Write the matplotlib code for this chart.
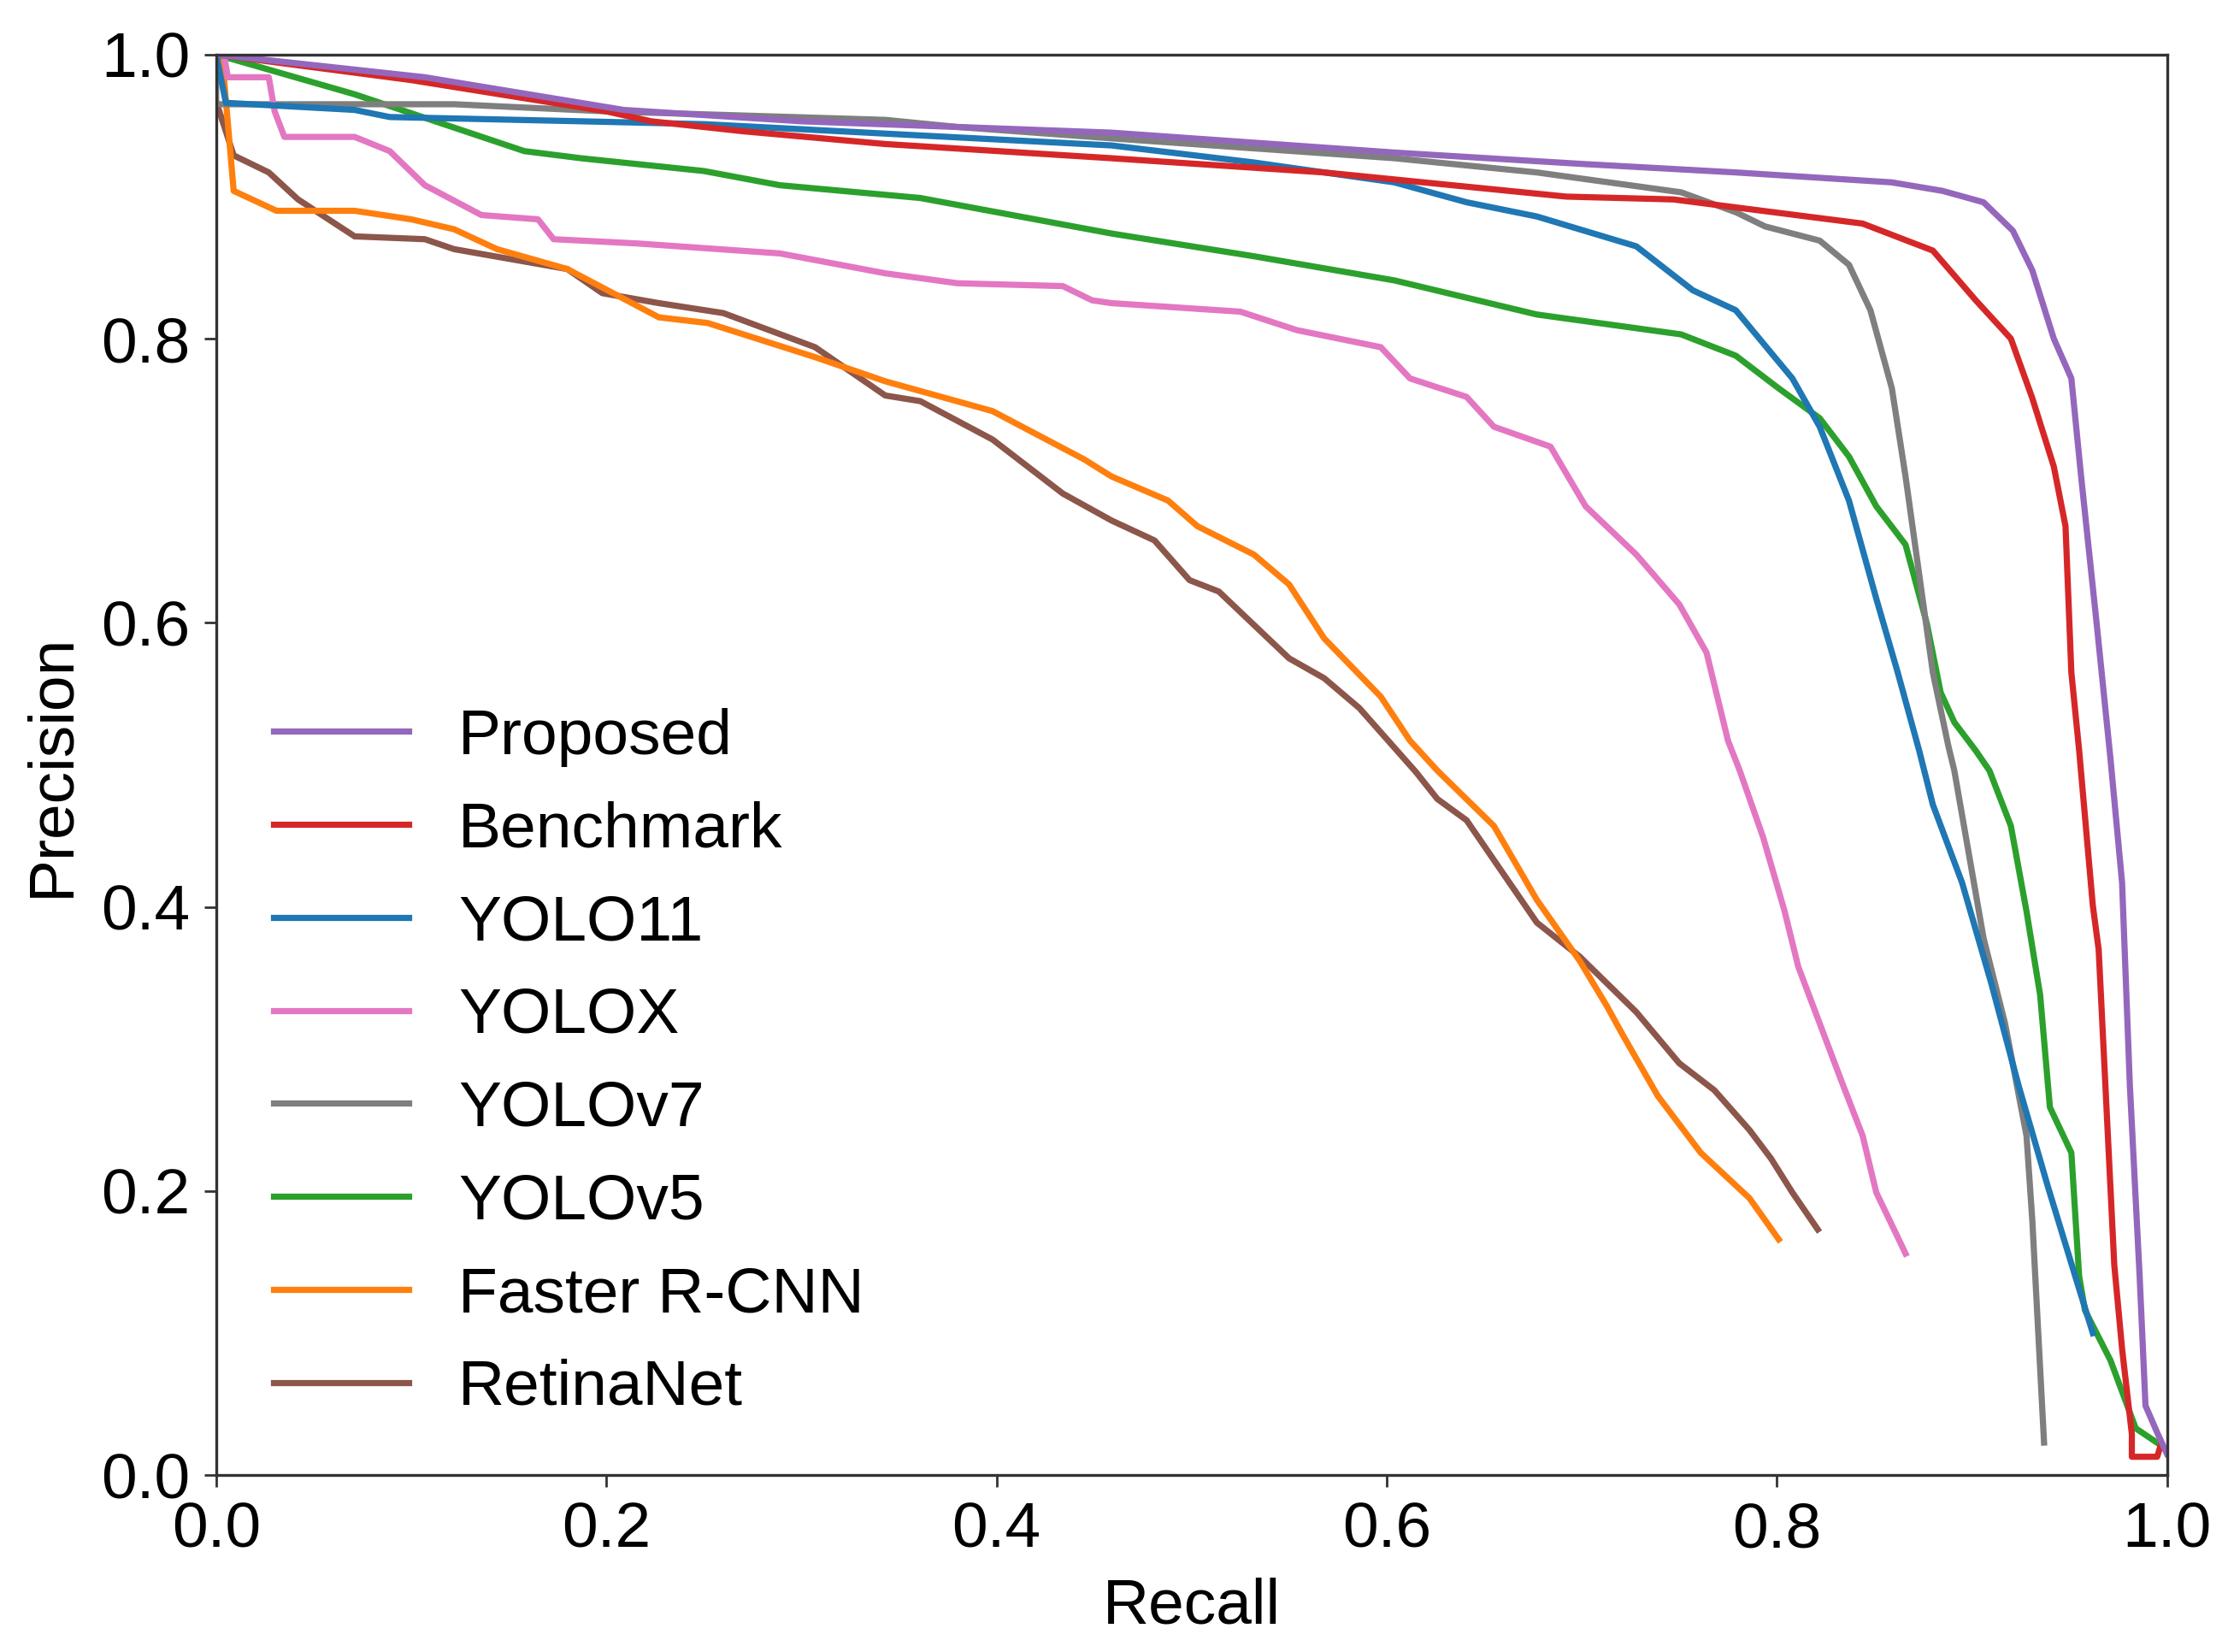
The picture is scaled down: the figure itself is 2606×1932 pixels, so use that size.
import matplotlib
matplotlib.use("Agg")
import matplotlib.pyplot as plt

plt.rcParams['font.family'] = ['Liberation Sans', 'DejaVu Sans']

# recall / precision
proposed_r = [0, 0.107, 0.209, 0.30, 0.40, 0.459, 0.604, 0.70, 0.779, 0.859, 0.885, 0.906, 0.921, 0.931,
              0.942, 0.951, 0.956, 0.964, 0.971, 0.977, 0.981, 0.986, 0.989, 0.995, 1.0]
proposed_p = [1.0, 0.984, 0.961, 0.953, 0.948, 0.945, 0.931, 0.923, 0.917, 0.910, 0.904, 0.896, 0.876, 0.848,
              0.80, 0.772, 0.703, 0.599, 0.505, 0.417, 0.274, 0.140, 0.049, 0.030, 0.015]

benchmark_r = [0, 0.10, 0.20, 0.223, 0.27, 0.343, 0.459, 0.568, 0.692, 0.747, 0.804, 0.844, 0.880, 0.902,
               0.920, 0.931, 0.942, 0.948, 0.951, 0.955, 0.962, 0.965, 0.969, 0.973, 0.977, 0.982, 0.982,
               0.995, 0.997]
benchmark_p = [1.0, 0.982, 0.960, 0.953, 0.946, 0.937, 0.927, 0.917, 0.900, 0.898, 0.888, 0.881, 0.862, 0.827,
               0.80, 0.758, 0.71, 0.668, 0.565, 0.51, 0.401, 0.37, 0.259, 0.148, 0.089, 0.029, 0.013,
               0.013, 0.022]

yolo11_r = [0, 0.005, 0.071, 0.089, 0.187, 0.25, 0.459, 0.532, 0.604, 0.641, 0.677, 0.728, 0.757, 0.779,
            0.808, 0.822, 0.837, 0.851, 0.862, 0.873, 0.880, 0.895, 0.910, 0.924, 0.939, 0.953, 0.962]
yolo11_p = [1.0, 0.966, 0.961, 0.956, 0.953, 0.951, 0.936, 0.924, 0.910, 0.896, 0.886, 0.865, 0.834, 0.820,
            0.772, 0.738, 0.686, 0.617, 0.565, 0.51, 0.472, 0.417, 0.346, 0.274, 0.203, 0.140, 0.10]

yolox_r = [0, 0.004, 0.006, 0.027, 0.030, 0.035, 0.071, 0.089, 0.107, 0.136, 0.165, 0.173, 0.216, 0.289,
           0.343, 0.38, 0.434, 0.449, 0.459, 0.525, 0.554, 0.597, 0.612, 0.641, 0.655, 0.684, 0.702, 0.728,
           0.750, 0.764, 0.775, 0.781, 0.793, 0.804, 0.811, 0.822, 0.833, 0.844, 0.851, 0.858, 0.866]
yolox_p = [1.0, 1.0, 0.984, 0.984, 0.96, 0.942, 0.942, 0.932, 0.908, 0.887, 0.884, 0.87, 0.867, 0.86,
           0.846, 0.839, 0.837, 0.827, 0.825, 0.819, 0.806, 0.794, 0.772, 0.759, 0.738, 0.724, 0.682, 0.648,
           0.613, 0.579, 0.517, 0.496, 0.449, 0.397, 0.358, 0.318, 0.278, 0.239, 0.199, 0.179, 0.156]

yolov7_r = [0, 0, 0.122, 0.2, 0.343, 0.38, 0.459, 0.604, 0.677, 0.751, 0.779, 0.794, 0.822, 0.837, 0.848,
            0.859, 0.866, 0.873, 0.880, 0.888, 0.891, 0.906, 0.917, 0.928, 0.931, 0.937]
yolov7_p = [1.0, 0.965, 0.965, 0.960, 0.954, 0.949, 0.941, 0.927, 0.917, 0.903, 0.889, 0.879, 0.869, 0.852,
            0.820, 0.765, 0.703, 0.634, 0.565, 0.513, 0.496, 0.378, 0.318, 0.239, 0.179, 0.023]

yolov5_r = [0, 0.071, 0.158, 0.187, 0.25, 0.289, 0.361, 0.459, 0.532, 0.604, 0.677, 0.751, 0.779, 0.801,
            0.822, 0.837, 0.851, 0.866, 0.877, 0.884, 0.891, 0.902, 0.909, 0.920, 0.928, 0.935, 0.940, 0.951,
            0.955, 0.958, 0.971, 0.984, 0.997]
yolov5_p = [1.0, 0.972, 0.932, 0.927, 0.918, 0.908, 0.899, 0.874, 0.858, 0.841, 0.817, 0.803, 0.788, 0.765,
            0.744, 0.717, 0.682, 0.655, 0.599, 0.551, 0.530, 0.51, 0.496, 0.457, 0.397, 0.338, 0.259, 0.227,
            0.140, 0.116, 0.081, 0.033, 0.021]

frcnn_r = [0.003, 0.009, 0.031, 0.071, 0.10, 0.122, 0.144, 0.18, 0.227, 0.252, 0.307, 0.343, 0.398, 0.445,
           0.459, 0.488, 0.503, 0.532, 0.550, 0.568, 0.597, 0.612, 0.626, 0.655, 0.677, 0.699, 0.713, 0.721,
           0.739, 0.761, 0.786, 0.801]
frcnn_p = [1.0, 0.904, 0.89, 0.89, 0.884, 0.877, 0.863, 0.849, 0.815, 0.811, 0.787, 0.77, 0.749, 0.715,
           0.703, 0.686, 0.668, 0.648, 0.627, 0.589, 0.548, 0.517, 0.496, 0.457, 0.405, 0.362, 0.330, 0.310,
           0.267, 0.227, 0.195, 0.166]

retina_r = [0, 0.009, 0.027, 0.042, 0.071, 0.107, 0.122, 0.18, 0.198, 0.227, 0.26, 0.307, 0.343, 0.361,
            0.398, 0.434, 0.459, 0.481, 0.499, 0.514, 0.550, 0.568, 0.586, 0.615, 0.626, 0.641, 0.655, 0.677,
            0.699, 0.728, 0.750, 0.768, 0.786, 0.797, 0.808, 0.821]
retina_p = [0.967, 0.929, 0.917, 0.898, 0.872, 0.870, 0.863, 0.849, 0.832, 0.825, 0.818, 0.794, 0.76, 0.756,
            0.729, 0.691, 0.672, 0.658, 0.630, 0.622, 0.575, 0.561, 0.540, 0.495, 0.476, 0.461, 0.433, 0.389,
            0.365, 0.326, 0.290, 0.271, 0.243, 0.223, 0.199, 0.173]

curves = [
    ("Proposed", proposed_r, proposed_p, "#9467bd"),
    ("Benchmark", benchmark_r, benchmark_p, "#d62728"),
    ("YOLO11", yolo11_r, yolo11_p, "#1f77b4"),
    ("YOLOX", yolox_r, yolox_p, "#e377c2"),
    ("YOLOv7", yolov7_r, yolov7_p, "#7f7f7f"),
    ("YOLOv5", yolov5_r, yolov5_p, "#2ca02c"),
    ("Faster R-CNN", frcnn_r, frcnn_p, "#ff7f0e"),
    ("RetinaNet", retina_r, retina_p, "#8c564b"),
]

fig = plt.figure(figsize=(13.03, 9.66), dpi=200)
ax = fig.add_axes([0.097, 0.107, 0.8756, 0.860])

# draw in reverse so Proposed sits on top
for name, r, p, c in reversed(curves):
    ax.plot(r, p, color=c, lw=2.6, label=name)

ax.set_xlim(0, 1)
ax.set_ylim(0, 1)
ticks = [0.0, 0.2, 0.4, 0.6, 0.8, 1.0]
ax.set_xticks(ticks)
ax.set_yticks(ticks)
ax.set_xticklabels([f"{t:.1f}" for t in ticks])
ax.set_yticklabels([f"{t:.1f}" for t in ticks])
ax.tick_params(labelsize=27, length=5, width=1.0, color="#333333", pad=6)
ax.set_xlabel("Recall", fontsize=27, labelpad=7)
ax.set_ylabel("Precision", fontsize=27, labelpad=8)
for s in ax.spines.values():
    s.set_color("#333333")
    s.set_linewidth(1.2)

handles, labels = ax.get_legend_handles_labels()
ax.legend(handles[::-1], labels[::-1], loc="lower left", bbox_to_anchor=(0.0, 0.0),
          frameon=False, fontsize=27, handlelength=2.1, handletextpad=0.78, labelspacing=0.53)

fig.savefig("out.png", dpi=200)
